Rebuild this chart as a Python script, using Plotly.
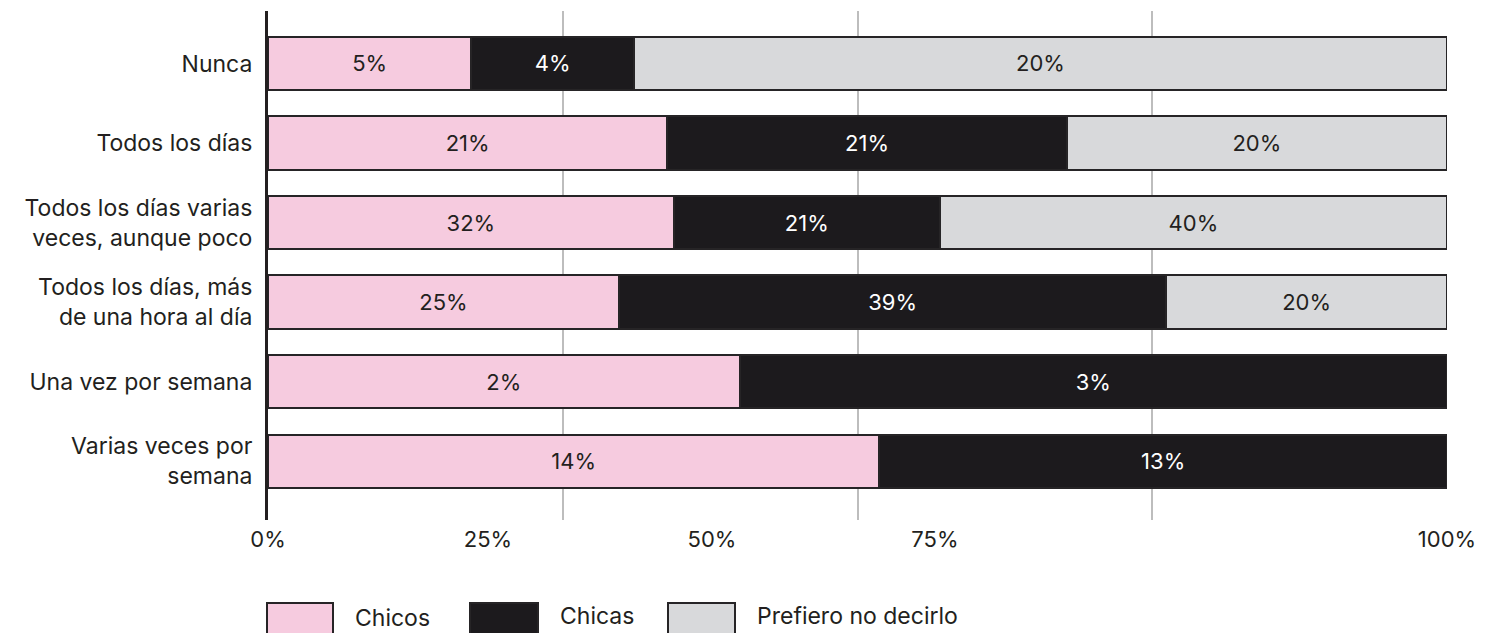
import plotly.graph_objects as go

# Survey answers: share of each group per frequency
categories = [
    "Nunca",
    "Todos los días",
    "Todos los días varias<br>veces, aunque poco",
    "Todos los días, más<br>de una hora al día",
    "Una vez por semana",
    "Varias veces por<br>semana",
]
chicos = [5, 21, 32, 25, 2, 14]
chicas = [4, 21, 21, 39, 3, 13]
prefiero = [20, 20, 40, 20, None, None]

series_names = ["Chicos", "Chicas", "Prefiero no decirlo"]
tick_labels = ["0%", "25%", "50%", "75%", "100%"]

colors = ["#f6cbdf", "#1c1a1d", "#d8d9db"]
text_colors = ["#231f20", "#ffffff", "#231f20"]
outline = "#262426"

W, H = 1486, 633
L, R, T, B = 268, 39, 11, 113
plot_w = W - L - R
plot_h = H - T - B

font = "Inter, Roboto, Liberation Sans, sans-serif"

fig = go.Figure()
for name, vals, col, tcol in zip(series_names, [chicos, chicas, prefiero], colors, text_colors):
    fig.add_trace(go.Bar(
        y=categories,
        x=vals,
        name=name,
        orientation="h",
        marker=dict(color=col, line=dict(color=outline, width=2)),
        text=[f"{v}%" if v else "" for v in vals],
        textposition="inside",
        insidetextanchor="middle",
        textangle=0,
        textfont=dict(family=font, size=22, color=tcol),
        width=0.67,
        showlegend=False,
        hoverinfo="skip",
    ))


def px_x(px):
    return (px - L) / plot_w


def px_y(py):
    return (H - B - py) / plot_h


# Legend keys drawn as large outlined swatches along the bottom edge
legend_boxes = [(267, 333), (470, 538), (668, 735)]
legend_text = [(353, 618), (558, 616), (755, 616)]
shapes = []
annotations = []
for (x0, x1), (tx, ty), col, name in zip(legend_boxes, legend_text, colors, series_names):
    shapes.append(dict(
        type="rect", xref="paper", yref="paper",
        x0=px_x(x0), x1=px_x(x1), y0=px_y(603), y1=px_y(660),
        fillcolor=col, line=dict(color=outline, width=2), layer="above",
    ))
    annotations.append(dict(
        xref="paper", yref="paper", x=px_x(tx), y=px_y(ty),
        xanchor="left", yanchor="middle", showarrow=False,
        text=name, font=dict(family=font, size=23, color="#231f20"),
    ))

fig.update_layout(
    width=W, height=H,
    margin=dict(l=L, r=R, t=T, b=B, pad=0),
    barmode="stack",
    barnorm="percent",
    plot_bgcolor="white",
    paper_bgcolor="white",
    shapes=shapes,
    annotations=annotations,
    xaxis=dict(
        range=[0, 100],
        tickvals=[25, 50, 75, 100],
        showticklabels=False,
        showgrid=True,
        gridcolor="#bdbdbd",
        gridwidth=2,
        zeroline=False,
        showline=False,
        ticks="",
        fixedrange=True,
    ),
    xaxis2=dict(
        overlaying="x",
        anchor="y",
        side="bottom",
        range=[0, 100],
        tickvals=[0, 18.66, 37.66, 56.57, 100],
        ticktext=tick_labels,
        showgrid=False,
        zeroline=False,
        showline=False,
        ticks="",
        ticklabelstandoff=4,
        tickfont=dict(family=font, size=22, color="#231f20"),
        fixedrange=True,
    ),
    yaxis=dict(
        categoryorder="array",
        categoryarray=categories,
        range=[5.74, -0.66],
        showline=True,
        linecolor="#231f20",
        linewidth=3,
        showgrid=False,
        zeroline=False,
        ticks="",
        ticklabelstandoff=8,
        tickfont=dict(family=font, size=23, color="#231f20"),
        fixedrange=True,
    ),
)

# invisible trace so the label axis is rendered
fig.add_trace(go.Scatter(x=[50], y=[categories[0]], xaxis="x2", mode="markers",
                         marker=dict(opacity=0), showlegend=False, hoverinfo="skip"))

fig.write_html("out.html")
